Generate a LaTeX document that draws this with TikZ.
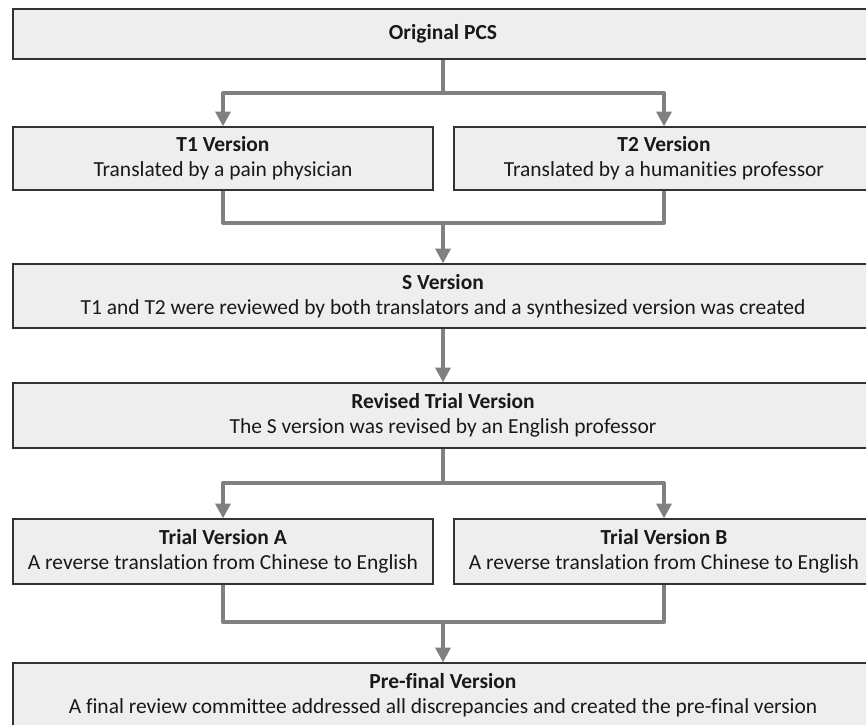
\documentclass[tikz,border=0pt]{standalone}
\usepackage{fontspec}
\setmainfont{Carlito}[Ligatures=NoCommon]
\usetikzlibrary{arrows.meta}
\definecolor{boxfill}{HTML}{EEEEEE}
\definecolor{boxline}{HTML}{333333}
\definecolor{conncol}{HTML}{808080}
\begin{document}
\begin{tikzpicture}[x=0.75pt,y=-0.75pt,
  box/.style={draw=boxline,fill=boxfill,line width=0.9pt,rectangle,align=center,
    inner sep=0pt,font=\fontsize{16.1}{18.75}\selectfont,text=black!90},
  wide/.style={box,minimum width=645pt},
  half/.style={box,minimum width=315pt},
  conn/.style={draw=conncol,line width=3pt,line join=round},
  arr/.style={conn,-{Triangle[length=11pt,width=11pt]}}]
\clip (0,0) rectangle (866,724);
\fill[white] (0,0) rectangle (866,724);
\node[wide,minimum height=37.5pt] (orig) at (443,34) {\textbf{Original PCS}};
\node[half,minimum height=47.25pt] (t1) at (223,158.5) {\textbf{T1 Version}\\Translated by a pain physician};
\node[half,minimum height=47.25pt] (t2) at (664,158.5) {\textbf{T2 Version}\\Translated by a humanities professor};
\node[wide,minimum height=48pt] (s) at (443,296) {\textbf{S Version}\\T1 and T2 were reviewed by both translators and a synthesized version was created};
\node[wide,minimum height=48.75pt] (rev) at (443,415.5) {\textbf{Revised Trial Version}\\The S version was revised by an English professor};
\node[half,minimum height=48.75pt] (ta) at (223,551.5) {\textbf{Trial Version A}\\A reverse translation from Chinese to English};
\node[half,minimum height=48.75pt] (tb) at (664,551.5) {\textbf{Trial Version B}\\A reverse translation from Chinese to English};
\node[wide,minimum height=48.75pt] (pre) at (443,695.5) {\textbf{Pre-final Version}\\A final review committee addressed all discrepancies and created the pre-final version};
\coordinate (j1) at (443,93);
\coordinate (j2) at (443,223);
\coordinate (j3) at (443,483);
\coordinate (j4) at (443,622);
\draw[conn] (orig.south) -- (j1);
\draw[arr] (j1) -| (t1.north);
\draw[arr] (j1) -| (t2.north);
\draw[conn] (t1.south) |- (j2) -| (t2.south);
\draw[arr] (j2) -- (s.north);
\draw[arr] (s.south) -- (rev.north);
\draw[conn] (rev.south) -- (j3);
\draw[arr] (j3) -| (ta.north);
\draw[arr] (j3) -| (tb.north);
\draw[conn] (ta.south) |- (j4) -| (tb.south);
\draw[arr] (j4) -- (pre.north);
\end{tikzpicture}
\end{document}
